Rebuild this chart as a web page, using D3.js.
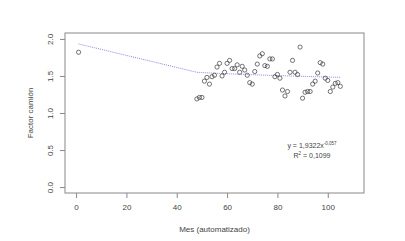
<!DOCTYPE html>
<html>
<head>
<meta charset="utf-8">
<script src="https://cdn.jsdelivr.net/npm/d3@7"></script>
<style>
  body { margin: 0; background: #fff; }
  text { font-family: "Liberation Sans", Arial, sans-serif; fill: #444; }
</style>
</head>
<body>
<svg id="chart" width="405" height="241"></svg>
<script>
// months (automatizado) and factor camión
const meses = [1, 48, 49, 50, 51, 52, 53, 54, 55, 56, 57, 58, 59, 60, 61, 62, 63, 64, 65, 66, 67, 68,
  69, 70, 71, 72, 73, 74, 75, 76, 77, 78, 79, 80, 81, 82, 83, 84, 85, 86, 87, 88, 89, 90,
  91, 92, 93, 94, 95, 96, 97, 98, 99, 100, 101, 102, 103, 104, 105];
const factor = [1.82, 1.19, 1.21, 1.21, 1.43, 1.48, 1.39, 1.49, 1.51, 1.62, 1.67, 1.50, 1.55, 1.67, 1.71, 1.60, 1.60, 1.65, 1.55, 1.63, 1.58, 1.51,
  1.41, 1.39, 1.56, 1.66, 1.77, 1.80, 1.64, 1.63, 1.73, 1.73, 1.49, 1.52, 1.47, 1.31, 1.23, 1.29, 1.55, 1.71, 1.55, 1.52, 1.89, 1.20,
  1.28, 1.29, 1.29, 1.39, 1.43, 1.54, 1.68, 1.66, 1.47, 1.44, 1.29, 1.35, 1.40, 1.41, 1.36];
const xTicks = [0, 20, 40, 60, 80, 100];
const yTicks = [0.0, 0.5, 1.0, 1.5, 2.0];
// power fit shown on the chart
const fitA = 1.9322;
const fitB = -0.057;

const svg = d3.select("#chart");
const margin = { top: 33, right: 41, bottom: 48, left: 65 };
const width = 405 - margin.left - margin.right;
const height = 241 - margin.top - margin.bottom;

const x = d3.scaleLinear().domain([-4.4, 114.4]).range([0, width]);
const y = d3.scaleLinear().domain([-0.08, 2.08]).range([height, 0]);

const g = svg.append("g").attr("transform", "translate(" + margin.left + "," + margin.top + ")");

// x axis
const xAxis = g.append("g")
  .attr("transform", "translate(0," + height + ")")
  .call(d3.axisBottom(x).tickValues(xTicks).tickSize(5).tickPadding(6).tickFormat(d3.format("d")));
xAxis.select(".domain").remove();
xAxis.selectAll("line").attr("stroke", "#888");
xAxis.selectAll("text").style("font-size", "8px").attr("fill", "#444");

// y axis, labels rotated like R
const yAxis = g.append("g")
  .call(d3.axisLeft(y).tickValues(yTicks).tickSize(5).tickFormat(d3.format(".1f")));
yAxis.select(".domain").remove();
yAxis.selectAll("line").attr("stroke", "#888");
yAxis.selectAll("text")
  .style("font-size", "8px")
  .attr("fill", "#444")
  .attr("x", 0).attr("dy", 0)
  .attr("text-anchor", "middle")
  .attr("transform", "translate(-12,0) rotate(-90)");

// plot box
g.append("rect")
  .attr("width", width).attr("height", height)
  .attr("fill", "none").attr("stroke", "#888").attr("stroke-width", 1);

// fitted curve through the data months
const line = d3.line()
  .x(d => x(d))
  .y(d => y(fitA * Math.pow(d, fitB)));
g.append("path")
  .datum(meses)
  .attr("d", line)
  .attr("fill", "none")
  .attr("stroke", "#6a6ae0")
  .attr("stroke-width", 0.8)
  .attr("stroke-dasharray", "1,1");

// points
g.selectAll("circle.pt")
  .data(meses)
  .enter()
  .append("circle")
  .attr("class", "pt")
  .attr("cx", d => x(d))
  .attr("cy", (d, i) => y(factor[i]))
  .attr("r", 2.1)
  .attr("fill", "none")
  .attr("stroke", "#3a3a3a")
  .attr("stroke-width", 0.7);

// titles
svg.append("text")
  .attr("x", margin.left + width / 2).attr("y", 232)
  .attr("text-anchor", "middle").style("font-size", "8px")
  .text("Mes (automatizado)");
svg.append("text")
  .attr("transform", "translate(33," + (margin.top + height / 2) + ") rotate(-90)")
  .attr("text-anchor", "middle").style("font-size", "8px")
  .text("Factor camión");

// equation
const eq = svg.append("text")
  .attr("x", 312).attr("y", 148)
  .attr("text-anchor", "middle").style("font-size", "7px");
eq.append("tspan").text("y = 1,9322x");
eq.append("tspan").attr("dy", -3).style("font-size", "4.5px").text("-0,057");
const r2 = svg.append("text")
  .attr("x", 312).attr("y", 158)
  .attr("text-anchor", "middle").style("font-size", "7px");
r2.append("tspan").text("R");
r2.append("tspan").attr("dy", -3).style("font-size", "4.5px").text("2");
r2.append("tspan").attr("dy", 3).text(" = 0,1099");
</script>
</body>
</html>
